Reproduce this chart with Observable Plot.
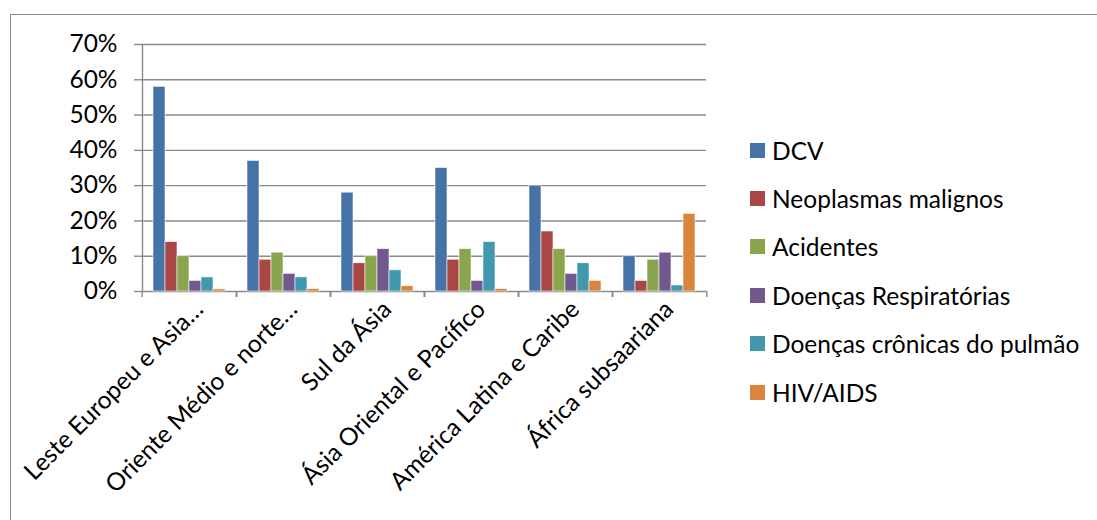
<!DOCTYPE html>
<html>
<head>
<meta charset="utf-8">
<script src="https://cdn.jsdelivr.net/npm/d3@7"></script>
<script src="https://cdn.jsdelivr.net/npm/@observablehq/plot@0.6"></script>
<style>
  body { margin: 0; background: #fff; }
  #wrap { position: relative; width: 1097px; height: 520px; overflow: hidden; background: #fff; font-family: Lato, sans-serif; }
  #border { position: absolute; left: 10px; top: 14px; width: 1200px; height: 700px; border: 1.5px solid #8c8c8c; box-sizing: border-box; }
  #chart { position: absolute; left: 0; top: 0; }
  #legend { position: absolute; left: 750px; top: 126px; }
  .row { display: flex; align-items: center; height: 48.4px; font-size: 24.5px; color: #000; white-space: nowrap; }
  .sw { width: 15px; height: 15px; margin-right: 7px; flex: none; }
</style>
</head>
<body>
<div id="wrap">
  <div id="border"></div>
  <div id="chart"></div>
  <div id="legend"></div>
</div>
<script>
// Regions (x categories)
const regions = [
  "Leste Europeu e Asia…",
  "Oriente Médio e norte…",
  "Sul da Ásia",
  "Ásia Oriental e Pacífico",
  "América Latina e Caribe",
  "África subsaariana"
];

// Causes of death (series)
const causes = [
  "DCV",
  "Neoplasmas malignos",
  "Acidentes",
  "Doenças Respiratórias",
  "Doenças crônicas do pulmão",
  "HIV/AIDS"
];

const colors = ["#4572A7", "#AA4643", "#89A54E", "#71588F", "#4198AF", "#DB843D"];

// Share of deaths (%) per region, one array per cause
const dcv          = [58, 37, 28, 35, 30, 10];
const neoplasmas   = [14,  9,  8,  9, 17,  3];
const acidentes    = [10, 11, 10, 12, 12,  9];
const respiratorias= [ 3,  5, 12,  3,  5, 11];
const pulmao       = [ 4,  4,  6, 14,  8,  1.7];
const hivAids      = [0.6, 0.7, 1.5, 0.7, 3, 22];

const yTicks = [0, 10, 20, 30, 40, 50, 60, 70];

const seriesValues = [dcv, neoplasmas, acidentes, respiratorias, pulmao, hivAids];
const rows = [];
regions.forEach((region, i) => {
  causes.forEach((cause, j) => {
    rows.push({region, cause, value: seriesValues[j][i]});
  });
});

const width = 1097, height = 520;
const marginLeft = 140, marginRight = 389, marginTop = 44, marginBottom = 229;
const step = (width - marginLeft - marginRight) / regions.length;
const gridColor = "#8a8a8a";
const font = "Lato, sans-serif";
const fontSize = 24.5;

const chart = Plot.plot({
  width, height, marginLeft, marginRight, marginTop, marginBottom,
  style: {fontFamily: font, fontSize: fontSize + "px", color: "#000", background: "transparent", overflow: "visible"},
  fx: {domain: regions, padding: 0, label: null, axis: null},
  x: {domain: causes, paddingInner: 0, paddingOuter: 0.79, axis: null},
  y: {domain: [0, 70], label: null},
  color: {domain: causes, range: colors},
  marks: [
    Plot.gridY(yTicks, {stroke: gridColor, strokeOpacity: 1, strokeWidth: 1.4}),
    Plot.axisY(yTicks, {
      tickFormat: d => d + "%", tickSize: 8, tickPadding: 17,
      stroke: gridColor, strokeOpacity: 1, strokeWidth: 1.4,
      fontSize, fill: "#000", label: null
    }),
    Plot.frame({anchor: "left", facetAnchor: "left", stroke: gridColor, strokeOpacity: 1, strokeWidth: 1.4}),
    Plot.barY(rows, {
      fx: "region", x: "cause", y: "value", fill: "cause",
      stroke: "#fff", strokeOpacity: 0.7, strokeWidth: 0.8
    }),
    // category boundary ticks below the axis
    Plot.axisFx({anchor: "bottom", text: null, tickSize: 6, dx: -step / 2, stroke: gridColor, strokeOpacity: 1, strokeWidth: 1.4, label: null}),
    Plot.axisFx({anchor: "bottom", text: null, tickSize: 6, dx: step / 2, stroke: gridColor, strokeOpacity: 1, strokeWidth: 1.4, label: null}),
    // rotated region labels
    Plot.axisFx({
      anchor: "bottom", tickSize: 0, tickPadding: 7, dx: 3, tickRotate: -45,
      textAnchor: "end", lineAnchor: "top",
      fontSize, fill: "#000", label: null
    })
  ]
});
document.getElementById("chart").appendChild(chart);

// Legend
const legend = d3.select("#legend");
causes.forEach((c, i) => {
  const row = legend.append("div").attr("class", "row");
  row.append("div").attr("class", "sw").style("background", colors[i]);
  row.append("span").text(c);
});
</script>
</body>
</html>
